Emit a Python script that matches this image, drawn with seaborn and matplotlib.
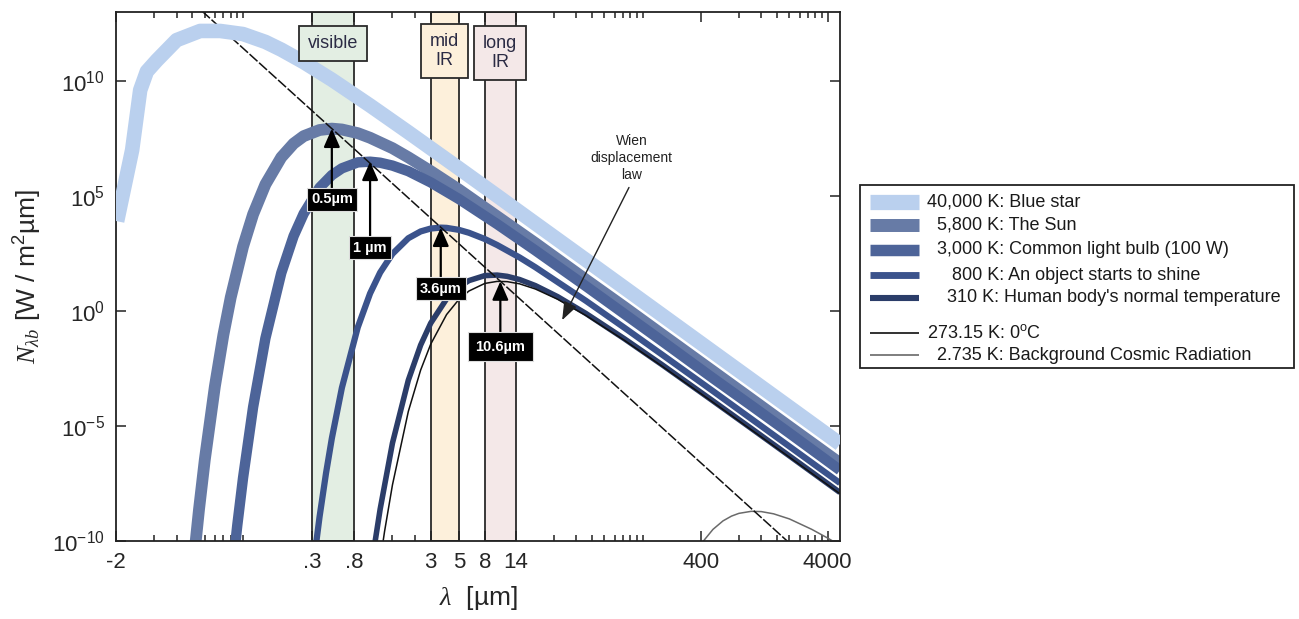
import pandas as pd
import seaborn as sns
import matplotlib.pyplot as plt
from matplotlib.lines import Line2D
from matplotlib.patches import Rectangle
import matplotlib.transforms as mtransforms

# -------------------------------
# Data (wavelength in um, N in W / m^2 um)
# -------------------------------
lam_40000 = [0.0102, 0.0134, 0.0155, 0.0175, 0.021, 0.030, 0.046, 0.066, 0.1, 0.15, 0.2,
             0.3, 0.5, 1, 2, 5, 10, 20, 50, 100, 200, 500, 1000, 2000, 5000]
n_40000 = [8e3, 1.0e7, 4.0e9, 2.6e10, 8e10, 6e11, 1.5e12, 1.5e12, 1.1e12, 5.0e11, 2.3e11,
           6.6e10, 1.14e10, 8.6e8, 5.9e7, 1.6e6, 1.02e5, 6.4e3, 166, 10.4, 0.65, 1.66e-2,
           1.04e-3, 6.5e-5, 1.66e-6]

lam_5800 = [0.04, 0.045, 0.05, 0.06, 0.07, 0.08, 0.1, 0.12, 0.15, 0.2, 0.25, 0.3, 0.4,
            0.5, 0.6, 0.8, 1, 1.5, 2, 3, 5, 10, 20, 50, 100, 200, 500, 1000, 2000, 5000]
n_5800 = [4.3e-12, 2.3e-9, 3.4e-7, 5.2e-4, 9.1e-2, 3.9, 630, 1.6e4, 3.2e5, 4.8e6, 1.9e7,
          4.0e7, 7.4e7, 8.5e7, 7.8e7, 5.4e7, 3.4e7, 1.2e7, 4.8e6, 1.2e6, 1.9e5, 1.3e4,
          890, 23, 1.5, 9.3e-2, 2.4e-3, 1.5e-4, 9.3e-6, 2.4e-7]

lam_3000 = [0.08, 0.09, 0.1, 0.12, 0.15, 0.2, 0.25, 0.3, 0.4, 0.5, 0.6, 0.8, 1, 1.2, 1.5,
            2, 3, 5, 10, 20, 50, 100, 200, 500, 1000, 2000, 5000]
n_3000 = [1.0e-12, 4.6e-10, 5.5e-8, 6.6e-5, 6.5e-2, 45, 1.8e3, 1.7e4, 2.3e5, 8.1e5, 1.6e6,
          2.9e6, 3.1e6, 2.8e6, 2.1e6, 1.2e6, 3.9e5, 7.4e4, 6.0e3, 430, 12, 0.76, 4.8e-2,
          1.2e-3, 7.8e-5, 4.9e-6, 1.2e-7]

lam_800 = [0.35, 0.4, 0.45, 0.5, 0.6, 0.8, 1, 1.2, 1.5, 2, 2.5, 3, 3.6, 4, 5, 6, 8, 10,
           15, 20, 50, 100, 200, 500, 1000, 2000, 5000]
n_800 = [3.5e-12, 1.1e-9, 8.9e-8, 2.9e-6, 4.6e-4, 0.195, 5.8, 47, 306, 1460, 2880, 3850,
         4220, 4120, 3370, 2520, 1350, 740, 214, 80, 2.77, 0.19, 1.24e-2, 3.3e-4, 2.06e-5,
         1.29e-6, 3.3e-8]

lam_310 = [1, 1.1, 1.2, 1.5, 2, 2.5, 3, 4, 5, 6, 8, 10, 12, 15, 20, 30, 50, 100, 200,
           500, 1000, 2000, 5000]
n_310 = [2.6e-12, 1.1e-10, 2.4e-9, 1.8e-6, 9.8e-4, 3.3e-2, 0.295, 3.34, 11.1, 21.0, 34.6,
         36.4, 32.1, 23.4, 12.7, 4.17, 0.78, 6.3e-2, 4.5e-3, 1.23e-4, 7.9e-6, 5.0e-7, 1.28e-8]

lam_273 = [1.2, 1.3, 1.5, 2, 2.5, 3, 4, 5, 6, 8, 10, 12, 15, 20, 30, 50, 100, 200, 500,
           1000, 2000, 5000]
n_273 = [1.3e-11, 2.6e-10, 2.75e-8, 4.3e-5, 2.7e-3, 3.6e-2, 0.70, 3.18, 7.4, 15.8, 19.4,
         18.9, 15.2, 9.05, 3.22, 0.64, 5.4e-2, 3.9e-3, 1.08e-4, 6.9e-6, 4.4e-7, 1.13e-8]

lam_cmb = [300, 350, 400, 500, 600, 700, 800, 1000, 1200, 1500, 2000, 3000, 4000, 5000]
n_cmb = [3.7e-12, 2.1e-11, 7.1e-11, 3.2e-10, 7.5e-10, 1.21e-9, 1.59e-9, 1.95e-9, 1.90e-9,
         1.52e-9, 9.1e-10, 3.2e-10, 1.34e-10, 6.5e-11]

# Wien displacement line, end points
lam_wien = [0.04, 3000]
n_wien = [2.6e13, 1.07e-11]

series_lam = [lam_40000, lam_5800, lam_3000, lam_800, lam_310, lam_273, lam_cmb]
series_n = [n_40000, n_5800, n_3000, n_800, n_310, n_273, n_cmb]
series_labels = ["40,000 K: Blue star", "  5,800 K: The Sun",
                 "  3,000 K: Common light bulb (100 W)", "     800 K: An object starts to shine",
                 "    310 K: Human body's normal temperature", "273.15 K: 0$^{o}$C",
                 "  2.735 K: Background Cosmic Radiation"]
series_colors = ["#bad0ee", "#677ba6", "#4d6499", "#3b538c", "#2b3d69", "#111111", "#6a6a6a"]
series_widths = [10.5, 8.5, 7.5, 4.5, 4.0, 1.1, 1.1]
series_z = [3, 2, 2, 2, 2, 2.2, 2.2]

band_names = ["visible", "mid\nIR", "long\nIR"]
band_lo = [0.35, 3, 8]
band_hi = [0.75, 5, 14]
band_colors = ["#e3eee3", "#fdf0db", "#f4e8e8"]
band_label_y = [0.941, 0.926, 0.922]

peak_labels = ["0.5\u00b5m", "1 \u00b5m", "3.6\u00b5m", "10.6\u00b5m"]
peak_lam = [0.5, 1.0, 3.6, 10.6]
peak_series = [1, 2, 3, 5]
peak_offset = [51, 62, 44, 47]
peak_pad = [0.3, 0.3, 0.3, 0.5]

xtick_pos = [0.01, 0.35, 0.75, 3, 5, 8, 14, 400, 4000]
xtick_lab = ["-2", ".3", ".8", "3", "5", "8", "14", "400", "4000"]
xtick_minor = ([0.02, 0.03, 0.04, 0.05, 0.06, 0.07, 0.08, 0.09, 0.1, 1.5, 2.25]
               + [28, 42, 56, 70, 84, 98, 112, 126, 140]
               + [800, 1200, 1600, 2000, 2400, 2800, 3200, 3600])
ytick_pos = [1e-10, 1e-5, 1e0, 1e5, 1e10]
ytick_lab = ["10$^{-10}$", "10$^{-5}$", "10$^{0}$", "10$^{5}$", "10$^{10}$"]

# -------------------------------
# Style
# -------------------------------
sns.set_style("white")
plt.rcParams["font.family"] = ["Liberation Sans", "DejaVu Sans"]
plt.rcParams["mathtext.fontset"] = "custom"
plt.rcParams["mathtext.rm"] = "Liberation Sans"
plt.rcParams["mathtext.it"] = "Liberation Serif:italic"
plt.rcParams["mathtext.bf"] = "Liberation Sans:bold"
plt.rcParams["mathtext.default"] = "regular"
plt.rcParams["lines.solid_capstyle"] = "butt"

fig = plt.figure(figsize=(12.99, 6.19), dpi=100)
ax = fig.add_axes([116 / 1299, 78 / 619, 724 / 1299, 529 / 619])
ax.set_xscale("log")
ax.set_yscale("log")

# spectral bands
for lo, hi, c in zip(band_lo, band_hi, band_colors):
    ax.axvspan(lo, hi, facecolor=c, edgecolor="#2a2a2a", lw=1.3, zorder=0.5)

# Wien displacement law
sns.lineplot(x=lam_wien, y=n_wien, ax=ax, color="#111111", lw=1.1,
             linestyle=(0, (7, 1.4)), zorder=2.5)

# blackbody curves
for lam, n, c, w, z in zip(series_lam, series_n, series_colors, series_widths, series_z):
    df = pd.DataFrame({"lam": lam, "n": n})
    sns.lineplot(data=df, x="lam", y="n", ax=ax, color=c, lw=w, zorder=z,
                 estimator=None, sort=False)

ax.set_xlim(0.01, 5000)
ax.set_ylim(1e-10, 1e13)

# band labels
tr = mtransforms.blended_transform_factory(ax.transData, ax.transAxes)
for name, lo, hi, c, yy in zip(band_names, band_lo, band_hi, band_colors, band_label_y):
    ax.text((lo * hi) ** 0.5, yy, name, transform=tr, ha="center", va="center",
            fontsize=13, color="#2b2b44", linespacing=1.15, zorder=6,
            bbox=dict(boxstyle="square,pad=0.5", fc=c, ec="#2a2a2a", lw=1.3))

# peak wavelength arrows
for lbl, lam, si, off, pad in zip(peak_labels, peak_lam, peak_series, peak_offset, peak_pad):
    tip = max(series_n[si])
    ax.annotate(lbl, xy=(lam, tip), xytext=(0, -off), textcoords="offset points",
                ha="center", va="center", color="white", fontsize=10.5, fontweight="bold",
                bbox=dict(boxstyle=f"square,pad={pad}", fc="black", ec="#dddddd", lw=0.8),
                arrowprops=dict(arrowstyle="-|>,head_length=0.8,head_width=0.35",
                                color="black", lw=1.6, mutation_scale=14,
                                shrinkA=0, shrinkB=0),
                zorder=7)

ax.annotate("Wien\ndisplacement\nlaw", xy=(32.5, 0.4), xytext=(115, 4.5e6),
            ha="center", va="center", fontsize=10, color="#222222", linespacing=1.25,
            arrowprops=dict(arrowstyle="-|>,head_length=0.8,head_width=0.3",
                            color="#222222", lw=1.0, mutation_scale=14,
                            shrinkA=2, shrinkB=0, relpos=(0.5, 0)),
            zorder=7)

# axes, ticks
ax.set_xticks(xtick_pos)
ax.set_xticklabels(xtick_lab)
ax.set_xticks(xtick_minor, minor=True)
ax.xaxis.set_minor_formatter(plt.NullFormatter())
ax.set_yticks(ytick_pos)
ax.set_yticklabels(ytick_lab)
ax.yaxis.set_minor_locator(plt.NullLocator())
ax.tick_params(which="both", direction="in", top=True, right=True, bottom=True, left=True,
               color="#222222", width=1.1)
ax.tick_params(which="major", length=7, labelsize=16, pad=8)
ax.tick_params(which="minor", length=4)
for s in ax.spines.values():
    s.set_color("#222222")
    s.set_linewidth(1.3)

ax.set_xlabel("$\\mathit{\u03bb}$  [\u00b5m]", fontsize=19, labelpad=8)
ax.set_ylabel("$\\mathit{N}_{\\mathit{\u03bb b}}$ [W / m$^2$\u00b5m]", fontsize=19, labelpad=6)

# legend box drawn in figure pixels
W, H = 1299, 619
fig.add_artist(Rectangle((860 / W, 1 - 368 / H), 434 / W, 183 / H, transform=fig.transFigure,
                         fill=False, ec="#222222", lw=1.3))
row_y = [202, 225, 250, 275, 298, 333, 355]
for lbl, c, w, ry in zip(series_labels, series_colors, series_widths, row_y):
    fig.add_artist(Line2D([870 / W, 919 / W], [1 - ry / H, 1 - ry / H],
                          transform=fig.transFigure, color=c, lw=min(w * 1.1, 11),
                          solid_capstyle="butt"))
    fig.text(927 / W, 1 - ry / H, lbl, ha="left", va="center", fontsize=13, color="#1a1a1a")

fig.savefig("out.png", dpi=100)
